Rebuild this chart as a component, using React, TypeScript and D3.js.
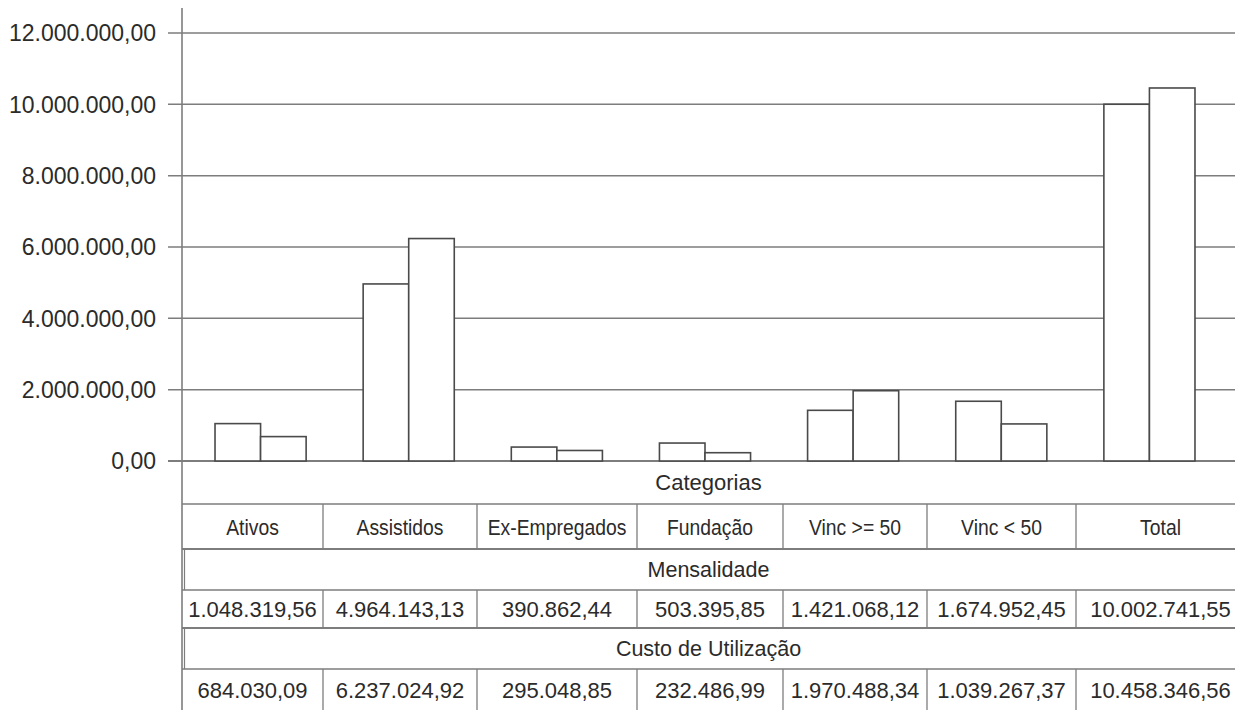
import React from "react";
import * as d3 from "d3";

// Monthly fees vs. utilization cost per participant category (R$)
const categories = ["Ativos", "Assistidos", "Ex-Empregados", "Fundação", "Vinc >= 50", "Vinc < 50", "Total"];
const seriesNames = ["Mensalidade", "Custo de Utilização"];
const mensalidade = [1048319.56, 4964143.13, 390862.44, 503395.85, 1421068.12, 1674952.45, 10002741.55];
const custoUtilizacao = [684030.09, 6237024.92, 295048.85, 232486.99, 1970488.34, 1039267.37, 10458346.56];
const yTicks = [0, 2000000, 4000000, 6000000, 8000000, 10000000, 12000000];
const tableTitle = "Categorias";

const W = 1235;
const H = 710;
const FONT = "'Liberation Sans', Arial, Helvetica, sans-serif";
const TEXT = "#2b2b2b";
const LINE = "#7d7d7d";

const ptBR = d3.formatLocale({ decimal: ",", thousands: ".", grouping: [3], currency: ["R$", ""] });
const fmt = ptBR.format(",.2f");

// plot frame
const axisX = 182;
const plotTop = 33;
const baseY = 461;
const rightEdge = 1235;

// data table geometry
const colEdges = [182, 323, 477, 637, 783, 927, 1076, 1245];
const rowCatTitle = [461, 504];
const rowCats = [504, 549];
const rowHead1 = [549, 590];
const rowVals1 = [590, 628];
const rowHead2 = [628, 669];
const rowVals2 = [669, 712];

export default function App() {
  const y = d3.scaleLinear().domain([0, 12000000]).range([baseY, plotTop]);
  const x0 = d3
    .scaleBand<string>()
    .domain(categories)
    .range([186.5, 1223.5])
    .paddingInner(0.385)
    .paddingOuter(0.1925);
  const x1 = d3.scaleBand<string>().domain(seriesNames).range([0, x0.bandwidth()]);

  const series = [mensalidade, custoUtilizacao];
  const mid = (r: number[]) => (r[0] + r[1]) / 2;
  const colMid = (i: number) => (colEdges[i] + colEdges[i + 1]) / 2;
  const tableCenter = (axisX + rightEdge) / 2;

  const valueRow = (vals: number[], row: number[], key: string) => (
    <g key={key}>
      {vals.map((v, i) => (
        <text key={i} x={colMid(i)} y={mid(row)} dy="0.36em" textAnchor="middle" fontSize={22} fill={TEXT}>
          {fmt(v)}
        </text>
      ))}
      {colEdges.slice(1, -1).map((cx, i) => (
        <line key={"v" + i} x1={cx} x2={cx} y1={row[0]} y2={row[1]} stroke={LINE} strokeWidth={1.3} />
      ))}
    </g>
  );

  return (
    <svg
      width={W}
      height={H}
      viewBox={`0 0 ${W} ${H}`}
      style={{ position: "absolute", left: 0, top: 0, background: "#fff" }}
      fontFamily={FONT}
    >
      {/* horizontal grid lines with tick stubs */}
      {yTicks.map((t) => (
        <g key={t}>
          <line x1={168} x2={rightEdge} y1={y(t)} y2={y(t)} stroke={LINE} strokeWidth={t === 0 ? 2 : 1.5} />
          <text x={156} y={y(t)} dy="0.36em" textAnchor="end" fontSize={23} fill={TEXT}>
            {fmt(t)}
          </text>
        </g>
      ))}

      {/* bars */}
      {categories.map((c, i) => (
        <g key={c} transform={`translate(${x0(c)},0)`}>
          {series.map((s, j) => (
            <rect
              key={j}
              x={x1(seriesNames[j])}
              y={y(s[i])}
              width={x1.bandwidth()}
              height={baseY - y(s[i])}
              fill="#fff"
              stroke="#4a4a4a"
              strokeWidth={1.6}
            />
          ))}
        </g>
      ))}

      {/* y axis line (runs through the category title box) */}
      <line x1={axisX} x2={axisX} y1={8} y2={rowCats[0]} stroke={LINE} strokeWidth={1.6} />

      {/* data table */}
      <g>
        <text x={tableCenter} y={mid(rowCatTitle)} dy="0.36em" textAnchor="middle" fontSize={22} fill={TEXT}>
          {tableTitle}
        </text>
        {[rowCats[0], rowHead1[0], rowVals1[0], rowHead2[0], rowVals2[0]].map((ly, i) => (
          <line key={i} x1={axisX} x2={rightEdge} y1={ly} y2={ly} stroke={LINE} strokeWidth={i === 1 || i === 3 ? 2 : 1.5} />
        ))}
        <line x1={axisX} x2={axisX} y1={rowCats[0]} y2={H} stroke={LINE} strokeWidth={1.6} />
        <line x1={axisX + 2.5} x2={axisX + 2.5} y1={rowHead1[0]} y2={rowHead1[1]} stroke={LINE} strokeWidth={1.2} />
        <line x1={axisX + 2.5} x2={axisX + 2.5} y1={rowHead2[0]} y2={rowHead2[1]} stroke={LINE} strokeWidth={1.2} />

        {/* category names, set in a condensed cut */}
        {categories.map((c, i) => (
          <text
            key={c}
            transform={`translate(${colMid(i)},${mid(rowCats)}) scale(0.86,1)`}
            dy="0.36em"
            textAnchor="middle"
            fontSize={22.5}
            fill={TEXT}
          >
            {c}
          </text>
        ))}
        {colEdges.slice(1, -1).map((cx, i) => (
          <line key={"c" + i} x1={cx} x2={cx} y1={rowCats[0]} y2={rowCats[1]} stroke={LINE} strokeWidth={1.3} />
        ))}

        {/* series headers and values */}
        <text x={tableCenter} y={mid(rowHead1)} dy="0.36em" textAnchor="middle" fontSize={21.5} fill={TEXT}>
          {seriesNames[0]}
        </text>
        {valueRow(mensalidade, rowVals1, "m")}
        <text x={tableCenter} y={mid(rowHead2)} dy="0.36em" textAnchor="middle" fontSize={21.5} fill={TEXT}>
          {seriesNames[1]}
        </text>
        {valueRow(custoUtilizacao, rowVals2, "c")}
      </g>
    </svg>
  );
}
